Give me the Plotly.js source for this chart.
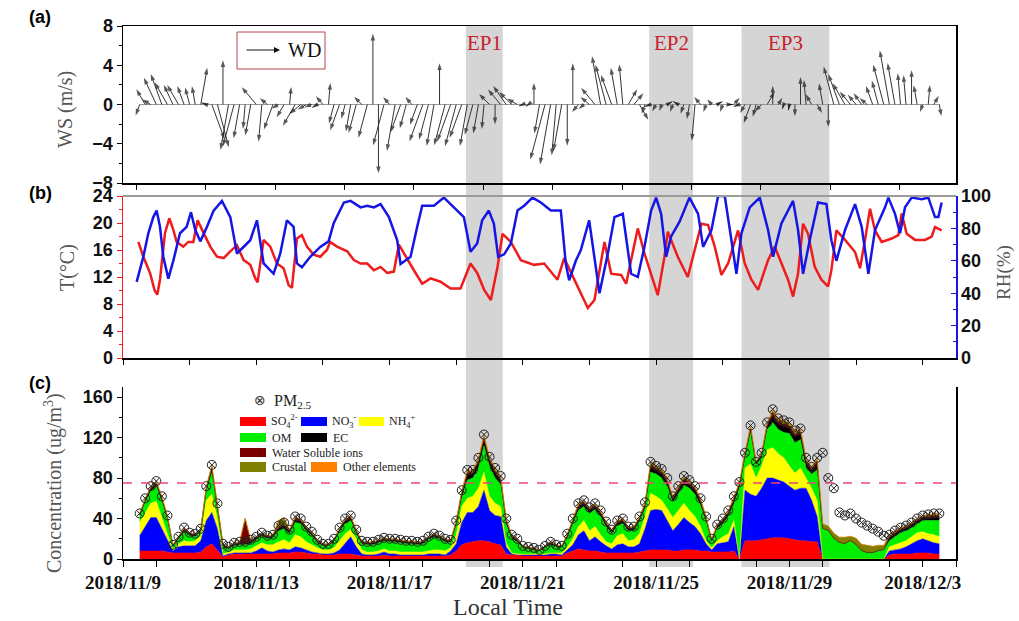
<!DOCTYPE html>
<html><head><meta charset="utf-8">
<script src="https://cdn.plot.ly/plotly-3.0.1.min.js"></script>
<style>html,body{margin:0;padding:0;background:#fff}#chart{width:1019px;height:621px}</style>
</head><body><div id="chart"></div>
<script>
// ---------------- DATA ----------------
// sampling: every 4 h starting 2018-11-09 12:00 (day offsets from 2018-11-09 00:00)
const START_DAY = 0.5, STEP_DAY = 1/6;

// (a) wind speed (m/s) and direction the arrow points (deg, clockwise from up)
const WS = [1.2,1.8,1.0,3.0,3.3,2.6,2.2,2.3,2.0,1.8,1.9,3.8,0.5,3.8,4.5,
 4.5,4.7,4.4,3.5,2.5,3.2,2.3,3.8,1.0,2.7,0.8,1.5,1.8,2.5,1.5,
 1.0,0.8,0.6,1.1,2.2,2.0,2.8,1.5,2.8,3.0,1.1,3.5,7.2,7.0,4.3,
 1.0,4.8,3.0,2.5,1.0,2.2,4.0,3.7,4.3,4.2,4.3,4.0,4.4,3.6,4.3,
 3.2,3.0,2.5,1.5,2.0,2.0,2.3,1.8,1.2,0.4,0.3,2.2,3.0,5.8,6.2,
 5.2,4.8,4.2,4.2,1.0,0.7,1.2,2.2,5.0,4.2,3.2,3.8,4.1,1.8,1.5,
 1.8,1.0,0.6,0.8,0.7,0.6,0.8,0.6,1.0,1.5,3.7,1.0,0.8,0.7,0.6,
 0.8,0.5,0.9,0.6,1.0,2.0,1.3,1.0,1.5,1.9,0.8,0.5,0.6,1.2,2.8,
 2.5,1.2,1.0,2.2,2.3,4.0,3.3,2.5,1.7,1.3,1.4,1.0,2.0,2.5,4.2,
 5.6,4.3,3.2,3.0,3.5,2.0,0.8,2.0,1.0,1.2];
const WD = [200,330,300,335,340,330,335,330,340,345,350,10,290,160,165,
 0,190,195,190,185,190,320,185,310,200,240,210,5,210,230,
 240,250,240,320,5,195,200,195,190,195,315,195,0,180,195,
 320,190,200,195,320,200,200,195,190,0,195,200,195,200,190,
 195,190,185,315,180,320,325,315,300,250,230,0,190,195,190,
 185,190,180,0,220,230,310,320,350,345,340,350,355,30,40,
 150,200,250,210,200,60,200,300,200,190,185,320,200,320,60,
 200,90,40,250,210,200,195,225,30,0,30,200,190,180,0,
 355,330,150,350,180,345,340,330,320,320,325,310,340,345,345,
 350,350,355,355,0,350,200,5,30,170];

// (b) temperature (°C) and RH (%), day offsets from 2018-11-09 00:00
const T_DAY = [0.46,0.61,0.81,0.95,1.03,1.11,1.26,1.39,1.51,1.61,1.81,1.96,2.11,2.24,2.42,2.62,2.82,3.02,3.22,3.42,3.62,3.82,3.97,4.04,4.22,4.42,4.62,4.82,4.97,5.07,5.22,5.37,5.52,5.72,5.92,6.12,6.22,6.42,6.73,6.93,7.13,7.33,7.53,7.73,7.93,8.13,8.28,8.43,8.73,8.98,9.23,9.53,9.83,10.13,10.43,10.63,10.84,11.04,11.24,11.39,11.64,11.94,12.34,12.64,13.04,13.24,13.54,13.95,14.15,14.45,14.65,14.95,15.10,15.45,15.65,15.85,16.05,16.25,16.35,16.65,16.95,17.36,17.56,17.76,17.96,18.16,18.46,18.66,18.86,19.06,19.36,19.56,19.76,19.96,20.11,20.26,20.41,20.56,20.76,20.96,21.16,21.26,21.41,21.67,21.97,22.12,22.27,22.42,22.57,22.77,23.07,23.27,23.37,23.52,23.77,24.07,24.27,24.37,24.57];
const T_VAL = [17.2,15,12.6,10,9.4,11.6,18.5,20.7,19,17.2,16.5,17.2,17.2,20.4,18.5,16.5,15,14.8,15.8,16.7,14.5,13.8,11.8,11.2,17.5,16.5,14,13.3,10.8,10.4,17.7,18.2,16.5,15.3,15,16,17.2,16.5,15.8,14.5,14,14,13,13.5,12.6,12.8,16.8,15.5,13,11,11.8,11.3,10.3,10.3,14,12.6,10.1,8.6,13.5,18.4,17.2,14.5,13.8,14,11.6,14.8,11.6,7.4,8.6,17.2,12.5,12.3,11,19.2,15.5,12.5,9.3,15,18.7,15,12,19.9,19.7,16.5,12.3,14,18.9,14,11.6,10.1,14.5,16.5,14,11.6,9.1,12.5,19.9,18.4,13.5,11.6,10.6,13,18.9,17.5,15.7,13.3,17.5,22.1,18.9,17.2,17.7,18.2,21.4,18.4,17.5,17.5,18,19.4,18.9];
const RH_DAY = [0.41,0.61,0.76,0.91,1.01,1.11,1.21,1.36,1.51,1.71,1.91,2.04,2.17,2.32,2.52,2.72,2.97,3.22,3.42,3.62,3.82,4.02,4.22,4.52,4.72,4.92,5.12,5.22,5.37,5.62,5.92,6.17,6.32,6.63,6.83,7.13,7.33,7.53,7.73,7.98,8.23,8.33,8.63,8.83,8.98,9.33,9.63,9.93,10.23,10.43,10.63,10.78,10.98,11.13,11.26,11.44,11.64,11.84,12.04,12.29,12.54,12.84,13.14,13.29,13.39,13.59,13.74,13.99,14.15,14.30,14.55,14.75,15.0,15.25,15.45,15.65,15.85,16.00,16.15,16.30,16.45,16.70,17.00,17.26,17.41,17.66,17.86,18.06,18.26,18.41,18.56,18.81,19.11,19.36,19.51,19.76,20.11,20.26,20.41,20.61,20.86,21.11,21.26,21.41,21.67,21.97,22.17,22.37,22.57,22.87,22.97,23.17,23.32,23.47,23.67,23.97,24.17,24.37,24.47,24.57];
const RH_VAL = [47,62.5,77,87,91,81,62.5,49,60,77,81,90,79,72,81,91,97,87,64.5,68.6,72.7,85,58.4,52,64.5,85,81,58.4,56,62.5,68.6,72,83,96,97,93,94,93,95,87,72.7,58,62.5,81,94,94,99,93,87,65.6,70.7,85,91,83,62.5,64,70.7,91,94,99,96,91,91,58,48,60,66.6,85,62.5,40,64.5,87,89,52,50,68.6,91,99,89,62.5,75,84,99,89,68.6,79,100,100,72.7,52,77,93,99,79,62.5,83,97,79,52,72.7,96,95,72.7,60,79,95,81,52,79,93,99,89,77,93,99,98,99,87,87,96];

// (c) PM2.5 and chemical components (ug/m3)
const PM25 = [45,60,72,77,62,43,14,22,31,26,25,30,72,93,55,
 15,12,16,17,17,19,22,26,23,24,33,36,29,42,40,
 32,27,19,15,15,20,31,40,43,29,18,17,17,19,21,
 20,20,19,18,18,17,18,22,25,23,20,19,38,68,88,
 88,100,123,101,90,82,40,24,20,13,12,11,9,13,17,
 14,13,25,40,55,58,51,55,48,37,29,38,40,32,32,
 42,56,96,92,89,80,62,72,82,78,72,60,42,20,34,
 40,48,62,76,105,132,96,105,135,148,139,137,135,127,129,
 100,91,100,105,80,70,46,43,45,40,36,33,30,27,23,
 24,28,31,33,36,40,43,44,45,45];
const SO4 = [8,8,8.5,8.5,8,7,6,6,6,6,6,7,12,15,9,
 2,4,5,5,5,5,5,5,5,5,6,6,6,7,7,
 6,5,5,4,4,4,5,5,5,4,3,3,3,3,4,
 3,3,3,3,3,3,3,3,3,3,3,4,8,14,16,
 17,18,18,17,15,14,5,4,4,3,3,3,3,3,3,
 3,3,6,8,10,9,8,8,7,6,6,6,6,6,6,
 7,8,9,9,9,9,8,8,9,9,9,8,8,7,7,
 7,7,8,0,18,18,18,19,20,21,21,21,20,19,18,
 18,17,17,0,0,0,0,0,0,0,0,0,0,0,0,
 4,5,5,5,5,6,6,6,5,5];
const NO3 = [15,24,32.5,32.5,22,11,2,6,7,7,7,11,26,31,21,
 1,1,1,1,1,1,3,6,3,2,3,4,3,5,4,
 3,2,1,1,1,2,4,10,17,8,2,1,1,2,3,
 2,2,1,1,1,1,1,2,2,2,1,4,7,22,30,
 29,34,50,31,28,28,7,1,0,1,1,1,1,1,2,
 2,1,3,6,14,19,10,14,10,7,4,8,9,6,6,
 8,22,39,40,39,29,20,26,32,27,23,17,7,2,8,
 9,10,24,0,50,46,44,51,60,59,57,55,52,49,52,
 52,41,25,0,0,0,0,0,0,0,0,0,0,0,0,
 4,4,5,7,10,12,14,12,11,10];
const NH4 = [13,14,14,16,10,7,1,3,5,4,5,5,20,18,10,
 2,2,3,3,3,4,5,5,6,7,8,9,7,12,11,
 8,7,5,4,4,5,9,10,7,8,4,3,3,3,3,
 3,3,3,3,3,3,3,3,4,4,4,3,9,16,14,
 16,18,18,14,12,10,4,1,1,1,1,1,1,1,1,
 1,2,3,6,8,10,10,10,7,4,5,9,10,6,7,
 10,12,17,13,10,12,13,14,14,12,10,7,3,2,3,
 6,8,6,0,22,30,18,22,28,30,26,24,20,17,20,
 10,12,16,0,0,0,0,0,0,0,0,0,0,0,0,
 4,5,6,6,7,8,7,7,8,7];
const OM = [6,10,12,15,17,14,3,4,9,6,4,4,9,21,10,
 7,3,4,5,5,5,6,7,6,7,11,11,9,12,13,
 11,9,5,4,4,6,9,10,9,5,6,7,7,8,8,
 9,9,9,8,8,7,8,11,13,11,9,5,9,8,18,
 18,20,26,30,25,22,18,14,12,6,5,4,3,6,8,
 6,5,9,14,16,14,17,17,18,15,10,10,10,10,9,
 12,8,21,22,22,22,15,16,18,22,22,21,19,6,12,
 13,17,16,70,10,31,13,8,20,25,24,25,32,30,28,
 10,14,30,30,28,20,16,15,18,14,8,6,6,8,9,
 6,8,10,10,9,9,11,13,14,16];
const EC = [1.5,2,2.5,2.5,2.5,2,1,1.5,2,1.5,1.5,1.5,2.5,4,2.5,
 1.5,1,1.5,1.5,1.5,2,1.5,1.5,1.5,1.5,2.5,3,2,3,2.5,
 2,2,1.5,1,1,1.5,2,2.5,2.5,2,1.5,1.5,1.5,1.5,1.5,
 1.5,1.5,1.5,1.5,1.5,1.5,1.5,1.5,1.5,1.5,1.5,1.5,2.5,4,5,
 4,5,5.5,4.5,5,4,3,2,1.5,1,1,1,0.5,1,1.5,
 1,1,2,3,3.5,3,3,3,3,2.5,2,2.5,2.5,2,2,
 2.5,3,5,4,4.5,4,3,4,4.5,4,4,3.5,2.5,1.5,2,
 2.5,3,4,3,2.5,3.5,1.5,2.5,3.5,6.5,5.5,6,5.5,6,5.5,
 5,3.5,6,0.5,0.5,0.5,0.5,0.5,0.5,0.5,0.5,0.5,0.5,0.5,0.5,
 3,3,2.5,2.5,2.5,2.5,2.5,3,3.5,3.5];
const WSI = [0.6,0.8,1,1,1,0.8,0.4,0.6,0.8,0.6,0.6,0.6,1,1.6,1,
 0.6,0.4,0.6,0.6,24,0.8,0.6,0.6,0.6,0.6,1,1.2,0.8,1.2,1,
 0.8,0.8,0.6,0.4,0.4,0.6,0.8,1,1,0.8,0.6,0.6,0.6,0.6,0.6,
 0.6,0.6,0.6,0.6,0.6,0.6,0.6,0.6,0.6,0.6,0.6,0.6,1,1.6,2,
 1.6,2,2.2,1.8,2,1.6,1.2,0.8,0.6,0.4,0.4,0.4,0.2,0.4,0.6,
 0.4,0.4,0.8,1.2,1.4,1.2,1.2,1.2,1.2,1,0.8,1,1,0.8,0.8,
 1,1.2,2,1.6,1.8,1.6,1.2,1.6,1.8,1.6,1.6,1.4,1,0.6,0.8,
 1,1.2,1.6,1.2,1,1.4,0.6,1,1.4,2.6,2.2,2.4,2.2,2.4,2.2,
 2,1.4,2.4,0,0,0,0,0,0,0,0,0,0,0,0,
 1.2,1.2,1,1,1,1,1,1.2,1.4,1.4];
const CRUSTAL = [0.5,0.7,0.8,0.8,0.8,0.7,0.3,0.5,0.7,0.5,0.5,0.5,0.8,1.4,0.8,
 0.5,0.3,0.5,0.5,0.5,0.7,0.5,0.5,0.5,0.5,6,6,0.7,1,0.8,
 0.7,0.7,0.5,0.3,0.3,0.5,0.7,0.8,0.8,0.7,0.5,0.5,0.5,0.5,0.5,
 0.5,0.5,0.5,0.5,0.5,0.5,0.5,0.5,0.5,0.5,0.5,0.5,0.8,1.4,1.7,
 1.4,1.7,1.9,1.6,1.7,1.4,1,0.7,0.5,0.3,0.3,0.3,0.2,0.3,0.5,
 0.3,0.3,0.7,1,1.2,1,1,1,1,0.8,0.7,0.8,0.8,0.7,0.7,
 0.8,1,1.7,1.4,1.6,1.4,1,1.4,1.6,1.4,1.4,1.2,0.8,0.5,0.7,
 0.8,1,1.4,1,0.8,1.2,0.5,0.8,1.2,2.2,1.9,2,1.9,2,1.9,
 1.7,1.2,2,4,4,5,5,6,4,6,6,7,6,5,4,
 1,1,0.8,0.8,0.8,0.8,0.8,1,1.2,1.2];
const OTHER = [0.4,0.5,0.7,0.7,0.7,0.5,0.3,0.4,0.5,0.4,0.4,0.4,0.7,1,0.7,
 0.4,0.3,0.4,0.4,0.4,0.5,0.4,0.4,0.4,0.4,0.7,0.8,0.5,0.8,0.7,
 0.5,0.5,0.4,0.3,0.3,0.4,0.5,0.7,0.7,0.5,0.4,0.4,0.4,0.4,0.4,
 0.4,0.4,0.4,0.4,0.4,0.4,0.4,0.4,0.4,0.4,0.4,0.4,0.7,1,1.3,
 1,1.3,1.4,1.1,1.3,1,0.8,0.5,0.4,0.3,0.3,0.3,0.1,0.3,0.4,
 0.3,0.3,0.5,0.8,0.9,0.8,0.8,0.8,0.8,0.7,0.5,0.7,0.7,0.5,0.5,
 0.7,0.8,1.3,1,1.1,1,0.8,1,1.1,1,1,0.9,0.7,0.4,0.5,
 0.7,0.8,1,0.8,0.7,0.9,0.4,0.7,0.9,1.7,1.4,1.6,1.4,1.6,1.4,
 1.3,0.9,1.6,0,0,0,0,0,0,0,0,0,0,0,0,
 0.8,0.8,0.7,0.7,0.7,0.7,0.7,0.8,0.9,0.9];
const PM25_STANDARD = 75;

// pollution episodes
const EP_NAMES = ['EP1','EP2','EP3'];
const EP_START = ['2018-11-19 07:00','2018-11-24 19:00','2018-11-27 13:30'];
const EP_END   = ['2018-11-20 09:30','2018-11-26 02:40','2018-11-30 04:50'];

// ---------------- HELPERS ----------------
const ORIGIN = Date.UTC(2018,10,9);
function dstr(d){ return new Date(ORIGIN + Math.round(d*864e5)).toISOString().slice(0,19).replace('T',' '); }
const t = PM25.map((_,k)=>dstr(START_DAY + k*STEP_DAY));

const W = 1019, H = 621, L = 123, R = 956, TOP = 26, BOT = 559;
const px = x => (x - L)/(R - L);
const py = y => (BOT - y)/(BOT - TOP);
const X_RANGE = ['2018-11-09 00:00','2018-12-04 00:00'];
const SERIF = 'Liberation Serif, Times New Roman, serif';
const SANS = 'Liberation Sans, Arial, sans-serif';
const tickFont = {family: SANS, size: 18, color:'#111', weight:'bold'};

// wind arrows: tail at (t,0), head along direction
const panelAHeight = 183 - TOP, wsRange = 16;
const pxPerMS = panelAHeight / wsRange;
const pxPerDay = (R - L) / 25;
const ax = [], ay = [], as = [];
WS.forEach((ws,k)=>{
  const d = START_DAY + k*STEP_DAY;
  const a = WD[k]*Math.PI/180;
  const dy = ws*Math.cos(a);
  const dxDay = ws*Math.sin(a)*pxPerMS/pxPerDay;
  ax.push(dstr(d), dstr(d+dxDay), null);
  ay.push(0, dy, null);
  as.push(0, 7, 0);
});

const traces = [
  {x:[t[0], t[t.length-1]], y:[0,0], xaxis:'x', yaxis:'y', mode:'lines', line:{color:'#9a9a9a', width:1}, hoverinfo:'skip'},
  {x:ax, y:ay, xaxis:'x', yaxis:'y', mode:'lines+markers', connectgaps:false,
   line:{color:'#333', width:1},
   marker:{symbol:'arrow', size:as, color:'#111', angleref:'previous', line:{width:0}}},
  {x:T_DAY.map(dstr), y:T_VAL, xaxis:'x2', yaxis:'y2', mode:'lines', line:{color:'#ee1c1c', width:2.5}},
  {x:RH_DAY.map(dstr), y:RH_VAL, xaxis:'x2', yaxis:'y4', mode:'lines', line:{color:'#1515e6', width:2.5}},
];
const comps = [
  ['SO4', SO4, '#ff0000'], ['NO3', NO3, '#0000ff'], ['NH4', NH4, '#ffff00'],
  ['OM', OM, '#00ee00'], ['EC', EC, '#000000'], ['WSI', WSI, '#7a0000'],
  ['Crustal', CRUSTAL, '#808000'], ['Other', OTHER, '#ff8000']
];
comps.forEach(([n, v, c])=>traces.push({x:t, y:v, name:n, xaxis:'x3', yaxis:'y3', stackgroup:'c', mode:'lines',
  line:{width:0.5, color:c}, fillcolor:c}));
traces.push({x:t, y:PM25, xaxis:'x3', yaxis:'y3', mode:'markers',
  marker:{symbol:'circle-x-open', size:9, color:'#222', line:{width:1}}});

// shapes
const shapes = [];
EP_START.forEach((s,i)=>shapes.push({type:'rect', xref:'x3', yref:'paper', x0:s, x1:EP_END[i], y0:py(567), y1:1,
  fillcolor:'#d5d5d5', line:{width:0}, layer:'below'}));
shapes.push({type:'line', xref:'x3 domain', x0:0, x1:1, yref:'y3', y0:PM25_STANDARD, y1:PM25_STANDARD,
  line:{color:'#ee4477', width:1.5, dash:'dash'}});
shapes.push({type:'line', xref:'x2 domain', x0:0, x1:1, yref:'y2 domain', y0:1, y1:1, line:{color:'#9b9b9b', width:2}});
shapes.push({type:'rect', xref:'paper', yref:'paper', x0:px(237), x1:px(325), y0:py(69), y1:py(32), line:{color:'#b8444e', width:1}});

// legend for (c)
const legRows = [
  [[240,266,417,426,'#ff0000','SO<sub>4</sub><sup>2-</sup>',269],[301,327,417,426,'#0000ff','NO<sub>3</sub><sup>-</sup>',330],[359,384,417,426,'#ffff00','NH<sub>4</sub><sup>+</sup>',387]],
  [[240,266,433,442,'#00ee00','OM',270],[301,327,433,442,'#000000','EC',331]],
  [[240,266,448,457,'#7a0000','Water Soluble ions',270]],
  [[240,266,462,472,'#808000','Crustal',270],[311,337,462,472,'#ff8000','Other elements',341]]
];
const annotations = [];
function note(o){ annotations.push(Object.assign({xref:'paper', yref:'paper', showarrow:false, xanchor:'center', yanchor:'middle'}, o)); }
legRows.flat().forEach(([x0,x1,y0,y1,c,txt,tx])=>{
  shapes.push({type:'rect', xref:'paper', yref:'paper', x0:px(x0), x1:px(x1), y0:py(y1), y1:py(y0), fillcolor:c, line:{width:0}});
  note({x:px(tx), y:py((y0+y1)/2), xanchor:'left', text:txt, font:{family:SERIF, size:12, color:'#222'}});
});
note({x:px(260), y:py(400), text:'⊗', font:{family:'DejaVu Sans', size:14, color:'#333'}});
note({x:px(272), y:py(401), xanchor:'left', text:'PM<sub>2.5</sub>', font:{family:SERIF, size:16, color:'#222'}});

// panel labels
[['(a)',17],['(b)',193],['(c)',383]].forEach(([s,y])=>note({x:px(40), y:py(y), text:s, font:{family:SANS, size:18, color:'#000', weight:'bold'}}));
// EP labels
EP_NAMES.forEach((n,i)=>{
  const mid = dstr(((Date.parse(EP_START[i].replace(' ','T')+'Z') + Date.parse(EP_END[i].replace(' ','T')+'Z'))/2 - ORIGIN)/864e5);
  note({xref:'x3', x:mid, y:py(43), text:n, font:{family:SERIF, size:21, color:'#c8202c'}});
});
// axis titles
const titleFont = {family:SERIF, size:20, color:'#555'};
note({x:px(65), y:py(110), textangle:-90, text:'WS (m/s)', font:titleFont});
note({x:px(67), y:py(268), textangle:-90, text:'T(°C)', font:titleFont});
note({x:px(1004), y:py(273), textangle:-90, text:'RH(%)', font:{family:SERIF, size:19, color:'#555'}});
note({x:px(53), y:py(483), textangle:-90, text:'Concentration (ug/m<sup>3</sup>)', font:titleFont});
note({x:px(508), y:py(607), text:'Local Time', font:{family:SERIF, size:24, color:'#333'}});
// WD legend
annotations.push({xref:'paper', yref:'paper', x:px(280), y:py(50), ax:-35, ay:0, showarrow:true, arrowhead:2, arrowsize:1, arrowwidth:1.2, arrowcolor:'#111', text:''});
note({x:px(286), y:py(50), xanchor:'left', text:'WD', font:{family:SERIF, size:20, color:'#111'}});

const axLine = {showline:true, linecolor:'#000', linewidth:1.5, showgrid:false, zeroline:false};
const layout = {
  width:W, height:H, autosize:false, showlegend:false,
  margin:{l:L, r:W-R, t:TOP, b:H-BOT, pad:0},
  paper_bgcolor:'#fff', plot_bgcolor:'rgba(0,0,0,0)',
  xaxis:Object.assign({}, axLine, {anchor:'y', type:'date', range:X_RANGE, tick0:'2018-11-09 09:30', dtick:50*3600*1000,
    ticks:'outside', ticklen:5, tickcolor:'#000', showticklabels:false, mirror:true}),
  yaxis:Object.assign({}, axLine, {domain:[py(183),1], range:[-8,8], tick0:0, dtick:4, ticks:'outside', ticklen:5, tickcolor:'#000',
    minor:{dtick:2, ticks:'outside', ticklen:3, tickcolor:'#000'}, mirror:true, tickfont:tickFont}),
  xaxis2:Object.assign({}, axLine, {anchor:'y2', type:'date', range:X_RANGE, tick0:'2018-11-09', dtick:2*864e5,
    ticks:'outside', ticklen:5, tickcolor:'#000', showticklabels:false}),
  yaxis2:Object.assign({}, axLine, {domain:[py(358), py(196)], range:[0,24], tick0:0, dtick:4, linecolor:'#ee1c1c',
    ticks:'outside', ticklen:5, tickcolor:'#ee1c1c', minor:{dtick:2, ticks:'outside', ticklen:3, tickcolor:'#ee1c1c'}, tickfont:tickFont}),
  yaxis4:Object.assign({}, axLine, {overlaying:'y2', side:'right', anchor:'x2', range:[0,100], tick0:0, dtick:20, linecolor:'#1515e6',
    ticks:'inside', ticklen:5, tickcolor:'#1515e6', minor:{dtick:10, ticks:'inside', ticklen:3, tickcolor:'#1515e6'}, tickfont:tickFont}),
  xaxis3:Object.assign({}, axLine, {anchor:'y3', type:'date', range:X_RANGE, tick0:'2018-11-09', dtick:4*864e5, tickformat:'%Y/%-m/%-d',
    ticks:'outside', ticklen:6, tickcolor:'#000', minor:{dtick:2*864e5, ticks:'outside', ticklen:6, tickcolor:'#000'},
    tickfont:{family:SERIF, size:19, color:'#111', weight:'bold'}}),
  yaxis3:Object.assign({}, axLine, {domain:[0, py(387)], range:[0,170], tick0:0, dtick:40, ticks:'outside', ticklen:5, tickcolor:'#000',
    minor:{dtick:20, ticks:'outside', ticklen:3, tickcolor:'#000'}, mirror:true, tickfont:tickFont}),
  shapes, annotations
};
Plotly.newPlot('chart', traces, layout, {displayModeBar:false, staticPlot:true});
</script></body></html>
